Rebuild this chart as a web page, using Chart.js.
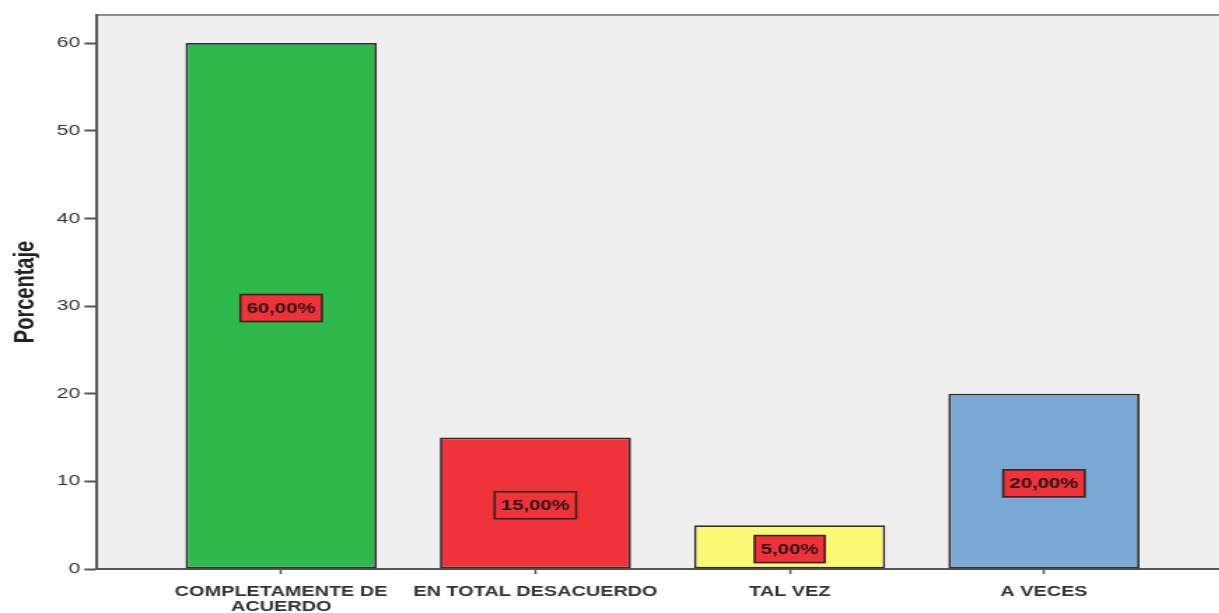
<!DOCTYPE html>
<html>
<head>
<meta charset="utf-8">
<script src="https://cdn.jsdelivr.net/npm/chart.js@4.4.1/dist/chart.umd.min.js"></script>
<style>
  html, body { margin: 0; padding: 0; background: #fff; overflow: hidden; }
  /* the chart is laid out narrow and stretched sideways, like the exported image */
  #wrap { width: 871px; height: 613px; transform: scaleX(1.4); transform-origin: 0 0; }
</style>
</head>
<body>
<div id="wrap"><canvas id="BarChart"></canvas></div>
<script>
const categories = [["COMPLETAMENTE DE", "ACUERDO"], "EN TOTAL DESACUERDO", "TAL VEZ", "A VECES"];
const percentages = [60, 15, 5, 20];
const barColors = ["#2fb84b", "#ef3339", "#fbf876", "#7aa9d6"];
const yTicks = [0, 10, 20, 30, 40, 50, 60];
const yMax = 63.2;
const xMin = -0.724;
const xMax = 3.69;

const axisColor = "#555555";
const labelColor = "#333333";

// grey plot panel with the thin frame line along the top
const plotPanel = {
  id: "plotPanel",
  beforeDraw(chart) {
    const { ctx, chartArea } = chart;
    ctx.save();
    ctx.fillStyle = "#efefef";
    ctx.fillRect(chartArea.left, chartArea.top, chartArea.right - chartArea.left, chartArea.bottom - chartArea.top);
    ctx.strokeStyle = "#8c8c8c";
    ctx.lineWidth = 2;
    ctx.beginPath();
    ctx.moveTo(chartArea.left, chartArea.top);
    ctx.lineTo(chartArea.right, chartArea.top);
    ctx.stroke();
    ctx.restore();
  },
};

// red value boxes in the middle of each bar
const valueBoxes = {
  id: "valueBoxes",
  afterDatasetsDraw(chart) {
    const { ctx } = chart;
    const yScale = chart.scales.y;
    const meta = chart.getDatasetMeta(0);
    ctx.save();
    ctx.font = "bold 14.5px 'Liberation Sans', Arial, sans-serif";
    ctx.textAlign = "center";
    ctx.textBaseline = "middle";
    meta.data.forEach((bar, i) => {
      const value = percentages[i];
      const text = value.toFixed(2).replace(".", ",") + "%";
      const w = ctx.measureText(text).width + 9;
      const h = 27;
      const cx = bar.x;
      const cy = yScale.getPixelForValue(value / 2) + 2;
      ctx.fillStyle = "#ef3339";
      ctx.fillRect(cx - w / 2, cy - h / 2, w, h);
      ctx.strokeStyle = "#3a2020";
      ctx.lineWidth = 1.6;
      ctx.strokeRect(cx - w / 2, cy - h / 2, w, h);
      ctx.fillStyle = "#2a1616";
      ctx.fillText(text, cx, cy + 1);
    });
    ctx.restore();
  },
};

new Chart(document.getElementById("BarChart"), {
  type: "bar",
  data: {
    datasets: [
      {
        data: percentages.map((v, i) => ({ x: i, y: v })),
        backgroundColor: barColors,
        borderColor: "#2e2e2e",
        borderWidth: 1.8,
        borderSkipped: false,
        categoryPercentage: 1,
        barPercentage: 0.752,
      },
    ],
  },
  options: {
    responsive: true,
    maintainAspectRatio: false,
    animation: false,
    layout: {
      padding: { top: 15, left: 0, right: 0, bottom: 0 },
    },
    plugins: {
      legend: { display: false },
      tooltip: { enabled: false },
    },
    scales: {
      x: {
        type: "linear",
        min: xMin,
        max: xMax,
        offset: false,
        afterBuildTicks(scale) {
          scale.ticks = categories.map((c, i) => ({ value: i }));
        },
        afterFit(scale) {
          scale.height = 44;
        },
        border: { display: true, color: axisColor, width: 2 },
        grid: {
          offset: false,
          drawOnChartArea: false,
          drawTicks: true,
          tickLength: 5,
          tickColor: axisColor,
          tickWidth: 1.5,
        },
        ticks: {
          autoSkip: false,
          maxRotation: 0,
          padding: 10.5,
          color: labelColor,
          font: { family: "'Liberation Sans', Arial, sans-serif", size: 14.2, weight: "bold", lineHeight: 1.05 },
          callback(val) {
            return categories[val];
          },
        },
      },
      y: {
        min: 0,
        max: yMax,
        afterBuildTicks(scale) {
          scale.ticks = yTicks.map(v => ({ value: v }));
        },
        afterFit(scale) {
          scale.width = 69.3;
        },
        border: { display: true, color: axisColor, width: 2 },
        grid: {
          drawOnChartArea: false,
          drawTicks: true,
          tickLength: 9,
          tickColor: axisColor,
          tickWidth: 2,
        },
        ticks: {
          padding: 3,
          color: labelColor,
          font: { family: "'Liberation Sans', Arial, sans-serif", size: 15 },
        },
        title: {
          display: true,
          text: "Porcentaje",
          color: "#222222",
          padding: { top: 6.5, bottom: 0 },
          font: { family: "'Liberation Sans Narrow', 'Liberation Sans', Arial, sans-serif", size: 20, weight: "bold" },
        },
      },
    },
  },
  plugins: [plotPanel, valueBoxes],
});
</script>
</body>
</html>
